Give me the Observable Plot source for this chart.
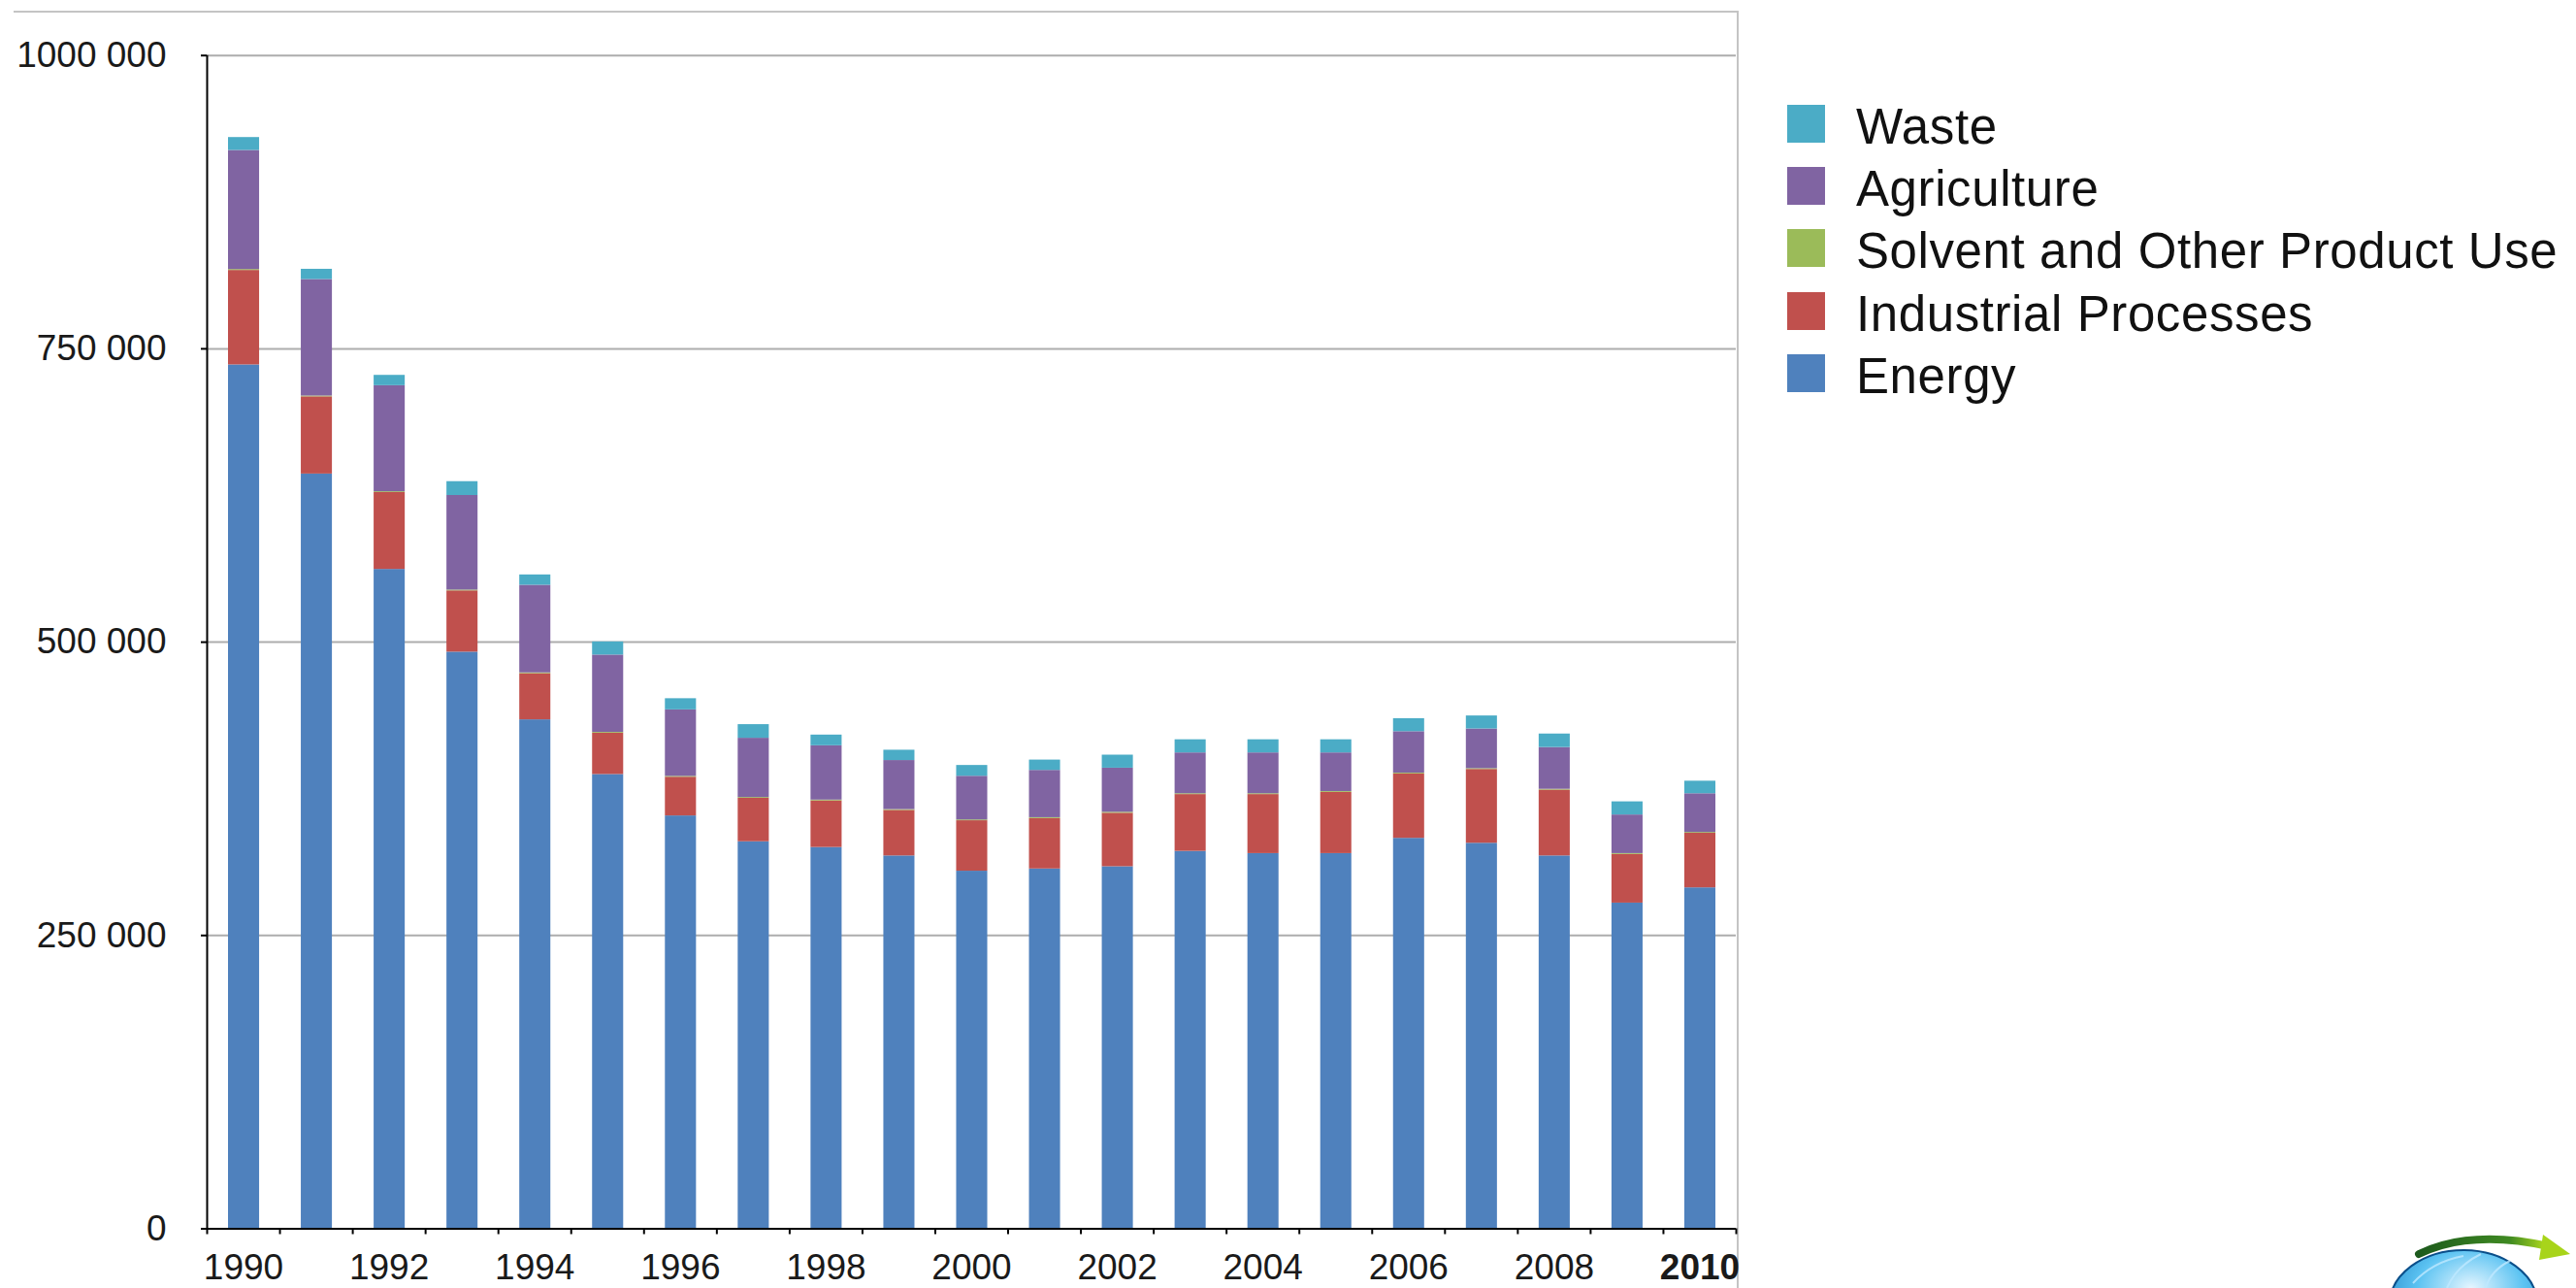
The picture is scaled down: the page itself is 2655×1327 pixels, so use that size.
<!DOCTYPE html>
<html>
<head>
<meta charset="utf-8">
<script src="https://cdn.jsdelivr.net/npm/d3@7"></script>
<script src="https://cdn.jsdelivr.net/npm/@observablehq/plot@0.6"></script>
<style>
  html, body { margin: 0; padding: 0; background: #fff; }
  #root { position: relative; width: 2655px; height: 1327px; overflow: hidden;
          font-family: "Liberation Sans", Arial, Helvetica, sans-serif; background: #fff; }
  #frame { position: absolute; left: 14px; top: 11px; width: 1776px; height: 1340px;
           border-top: 2px solid #c4c4c4; border-right: 2px solid #c4c4c4; }
  #chart { position: absolute; left: 0; top: 0; }
  #chart svg text { fill: #1a1a1a; }
  #chart g[aria-label="x-axis tick label"] text:last-of-type { font-weight: bold; }
  #legend { position: absolute; left: 0; top: 0; }
  .lg-sw { position: absolute; width: 39px; height: 39px; }
  .lg-tx { position: absolute; font-size: 51px; line-height: 51px; letter-spacing: 0.6px; color: #111; white-space: nowrap; }
  #logo { position: absolute; left: 2427px; top: 1262px; }
</style>
</head>
<body>
<div id="root">
  <div id="frame"></div>
  <div id="chart"></div>
  <div id="legend"></div>
  <svg id="logo" width="228" height="65" viewBox="0 0 228 65">
    <defs>
      <radialGradient id="gl" cx="0.55" cy="0.35" r="0.8">
        <stop offset="0" stop-color="#e6f6ff"/>
        <stop offset="0.45" stop-color="#5cc3f2"/>
        <stop offset="1" stop-color="#0a6fb8"/>
      </radialGradient>
      <linearGradient id="ar" x1="0" x2="1" y1="0" y2="0">
        <stop offset="0" stop-color="#1d5a1d"/>
        <stop offset="0.7" stop-color="#3f8a22"/>
        <stop offset="1" stop-color="#b8e01c"/>
      </linearGradient>
    </defs>
    <ellipse cx="112" cy="82" rx="76" ry="56" fill="url(#gl)" stroke="#0b4f8a" stroke-width="2"/>
    <path d="M60 60 Q 80 38 112 32 M95 65 Q 105 42 130 30 M135 65 Q 140 47 160 37" stroke="#bfe8ff" stroke-width="2" fill="none" opacity="0.8"/>
    <path d="M66 30 Q 120 4 200 22" stroke="url(#ar)" stroke-width="8" fill="none" stroke-linecap="round"/>
    <path d="M194 10 L 222 30 L 190 36 Z" fill="#a8d41a"/>
  </svg>
</div>
<script>
// ---- data (kt CO2 eq.) ----
const years = [1990, 1991, 1992, 1993, 1994, 1995, 1996, 1997, 1998, 1999, 2000,
               2001, 2002, 2003, 2004, 2005, 2006, 2007, 2008, 2009, 2010];
const energy      = [736300, 643300, 562000, 491500, 433800, 387200, 351900, 329900, 325000, 317800, 304800,
                     306700, 308600, 321700, 319800, 319800, 332800, 328600, 317800, 277600, 290600];
const industrial  = [80500, 65800, 65500, 52200, 39300, 35200, 33000, 37000, 39700, 38800, 43000,
                     43000, 45600, 48400, 50300, 52200, 54900, 62900, 56100, 41500, 46500];
const solvent     = [800, 700, 700, 700, 700, 700, 700, 700, 700, 700, 700,
                     700, 800, 700, 700, 700, 700, 700, 700, 700, 700];
const agriculture = [101500, 99300, 90400, 80600, 74700, 65900, 56700, 50500, 46300, 41800, 37200,
                     40300, 37600, 34800, 34800, 32900, 35300, 33800, 35600, 32900, 33000];
const waste       = [11000, 8700, 8800, 11800, 8800, 11200, 9500, 11600, 9100, 8800, 9200,
                     8800, 11100, 11200, 11200, 11200, 11100, 11100, 11500, 11200, 10700];

const sectors = ["Energy", "Industrial Processes", "Solvent and Other Product Use", "Agriculture", "Waste"];
const sectorColors = ["#4F81BD", "#C0504D", "#9BBB59", "#8064A2", "#4BACC6"];
const legendOrder = ["Waste", "Agriculture", "Solvent and Other Product Use", "Industrial Processes", "Energy"];

const yTicks = [0, 250000, 500000, 750000, 1000000];
const yTickLabels = ["0", "250 000", "500 000", "750 000", "1000 000"];
const xLabelYears = [1990, 1992, 1994, 1996, 1998, 2000, 2002, 2004, 2006, 2008, 2010];

// ---- build table ----
const seriesValues = [energy, industrial, solvent, agriculture, waste];
const data = [];
sectors.forEach((s, i) => years.forEach((yr, j) => data.push({year: yr, sector: s, value: seriesValues[i][j]})));

const xStart = years[0];
const xEnd = years[years.length - 1] + 1;
const boundaries = years.concat([xEnd]);

const chart = Plot.plot({
  width: 1800,
  height: 1327,
  marginLeft: 213,
  marginRight: 11,
  marginTop: 56.7,
  marginBottom: 61.5,
  style: {fontFamily: '"Liberation Sans", Arial, Helvetica, sans-serif', background: "transparent", color: "#000", overflow: "visible"},
  x: {type: "linear", domain: [xStart, xEnd], axis: null, label: null},
  y: {domain: [yTicks[0], yTicks[yTicks.length - 1]], axis: null, label: null},
  color: {domain: sectors, range: sectorColors},
  marks: [
    Plot.gridY(yTicks.slice(1), {stroke: "#adadad", strokeOpacity: 1, strokeWidth: 2}),
    Plot.rectY(data, {x: "year", interval: 1, y: "value", fill: "sector", insetLeft: 22, insetRight: 21}),
    Plot.ruleY([yTicks[0]], {stroke: "#000", strokeWidth: 2}),
    Plot.ruleX([xStart], {y1: yTicks[0], y2: yTicks[yTicks.length - 1], stroke: "#000", strokeWidth: 2}),
    Plot.axisY({ticks: yTicks, tickFormat: d => yTickLabels[yTicks.indexOf(d)], tickSize: 6, tickPadding: 36,
                fontSize: 37, stroke: "#000", strokeWidth: 2, label: null}),
    Plot.axisX({ticks: boundaries, tickFormat: () => "", tickSize: 6, stroke: "#000", strokeWidth: 2, label: null}),
    Plot.axisX({ticks: xLabelYears.map(y => y + 0.5), tickFormat: d => String(Math.floor(d)), tickSize: 0,
                tickPadding: 26, fontSize: 37, label: null})
  ]
});
document.getElementById("chart").appendChild(chart);

// ---- legend ----
const colorOf = Object.fromEntries(sectors.map((s, i) => [s, sectorColors[i]]));
const legend = document.getElementById("legend");
legendOrder.forEach((s, i) => {
  const top = 108 + i * 64.2;
  const sw = document.createElement("div");
  sw.className = "lg-sw";
  sw.style.left = "1842px";
  sw.style.top = top + "px";
  sw.style.background = colorOf[s];
  legend.appendChild(sw);
  const tx = document.createElement("div");
  tx.className = "lg-tx";
  tx.style.left = "1913px";
  tx.style.top = (top - 3) + "px";
  tx.textContent = s;
  legend.appendChild(tx);
});
</script>
</body>
</html>
